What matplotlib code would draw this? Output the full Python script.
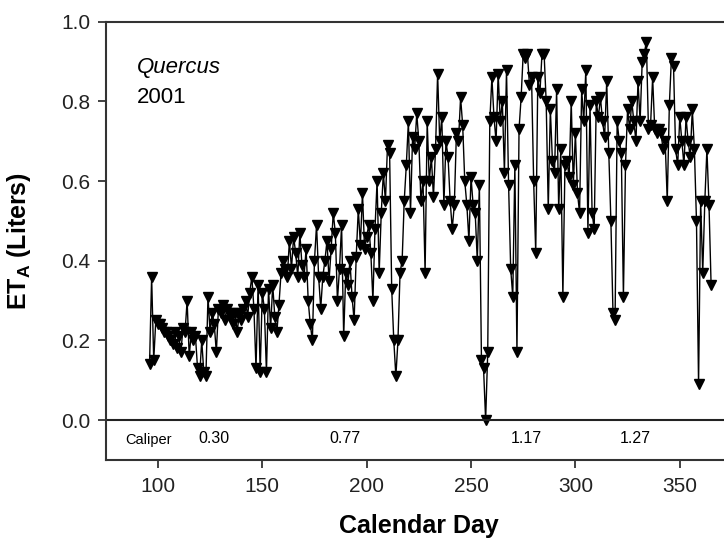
import matplotlib
matplotlib.use('Agg')
import matplotlib.pyplot as plt

plt.rcParams['font.family'] = ['Liberation Sans', 'DejaVu Sans']
plt.rcParams['mathtext.fontset'] = 'custom'
plt.rcParams['mathtext.rm'] = 'Liberation Sans'
plt.rcParams['mathtext.bf'] = 'Liberation Sans:bold'

# Data: daily ET_A (Liters), Quercus 2001
first_day = 96
eta = [
    # 96-105
    0.14, 0.36, 0.15, 0.25, 0.24, 0.24, 0.23, 0.22, 0.22, 0.21,
    # 106-115
    0.20, 0.19, 0.22, 0.18, 0.21, 0.17, 0.23, 0.22, 0.30, 0.16,
    # 116-125
    0.22, 0.20, 0.21, 0.13, 0.11, 0.20, 0.12, 0.11, 0.31, 0.22,
    # 126-135
    0.27, 0.24, 0.17, 0.28, 0.27, 0.29, 0.25, 0.28, 0.27, 0.26,
    # 136-145
    0.24, 0.27, 0.22, 0.27, 0.25, 0.28, 0.30, 0.26, 0.32, 0.36,
    # 146-155
    0.28, 0.13, 0.34, 0.12, 0.32, 0.28, 0.12, 0.33, 0.23, 0.34,
    # 156-165
    0.26, 0.22, 0.29, 0.37, 0.40, 0.38, 0.36, 0.45, 0.38, 0.46,
    # 166-175
    0.42, 0.36, 0.47, 0.39, 0.36, 0.43, 0.30, 0.24, 0.20, 0.40,
    # 176-185
    0.49, 0.36, 0.28, 0.36, 0.40, 0.45, 0.35, 0.43, 0.52, 0.47,
    # 186-195
    0.30, 0.38, 0.49, 0.21, 0.37, 0.34, 0.40, 0.31, 0.25, 0.41,
    # 196-205
    0.53, 0.44, 0.57, 0.43, 0.46, 0.49, 0.42, 0.30, 0.48, 0.60,
    # 206-215
    0.37, 0.52, 0.62, 0.55, 0.69, 0.67, 0.33, 0.20, 0.11, 0.20,
    # 216-225
    0.37, 0.40, 0.55, 0.64, 0.75, 0.52, 0.71, 0.68, 0.77, 0.70,
    # 226-235
    0.55, 0.60, 0.37, 0.75, 0.60, 0.66, 0.56, 0.68, 0.87, 0.70,
    # 236-245
    0.76, 0.54, 0.70, 0.66, 0.55, 0.48, 0.54, 0.72, 0.70, 0.81,
    # 246-255
    0.74, 0.60, 0.54, 0.45, 0.61, 0.54, 0.52, 0.40, 0.59, 0.15,
    # 256-265
    0.13, 0.00, 0.17, 0.75, 0.86, 0.76, 0.70, 0.87, 0.75, 0.80,
    # 266-275
    0.62, 0.88, 0.59, 0.38, 0.31, 0.64, 0.17, 0.73, 0.81, 0.92,
    # 276-285
    0.91, 0.92, 0.84, 0.86, 0.60, 0.42, 0.86, 0.82, 0.92, 0.92,
    # 286-295
    0.80, 0.53, 0.78, 0.65, 0.62, 0.83, 0.53, 0.68, 0.31, 0.64,
    # 296-305
    0.65, 0.61, 0.80, 0.59, 0.72, 0.57, 0.52, 0.83, 0.75, 0.88,
    # 306-315
    0.47, 0.79, 0.52, 0.48, 0.80, 0.76, 0.81, 0.75, 0.71, 0.85,
    # 316-325
    0.67, 0.50, 0.27, 0.25, 0.75, 0.70, 0.67, 0.31, 0.64, 0.78,
    # 326-335
    0.73, 0.80, 0.75, 0.70, 0.85, 0.75, 0.90, 0.92, 0.95, 0.73,
    # 336-345
    0.74, 0.86, 0.73, 0.72, 0.73, 0.72, 0.68, 0.70, 0.55, 0.79,
    # 346-355
    0.91, 0.89, 0.68, 0.64, 0.76, 0.70, 0.64, 0.76, 0.70, 0.66,
    # 356-365
    0.78, 0.68, 0.50, 0.09, 0.55, 0.37, 0.55, 0.68, 0.54, 0.34,
]
days = list(range(first_day, first_day + len(eta)))

caliper_days = [127, 189.5, 276.5, 328.5]
caliper_labels = ['0.30', '0.77', '1.17', '1.27']

fig = plt.figure(figsize=(7.24, 5.43), dpi=100)
ax = fig.add_axes([0.146, 0.153, 0.865, 0.807])

ax.plot(days, eta, color='black', linewidth=1.0, marker='v',
        markersize=7.5, markerfacecolor='black', markeredgecolor='black')
ax.axhline(0.0, color='#222222', linewidth=1.5)

ax.text(84.5, -0.05, 'Caliper', fontsize=10.5, ha='left', va='center')
for d, lab in zip(caliper_days, caliper_labels):
    ax.text(d, -0.045, lab, fontsize=11.5, ha='center', va='center')

ax.text(90, 0.885, 'Quercus', fontsize=16, style='italic', va='center')
ax.text(90, 0.81, '2001', fontsize=16, va='center')

ax.set_xlim(75, 375)
ax.set_ylim(-0.1, 1.0)
ax.set_xticks([100, 150, 200, 250, 300, 350])
ax.set_yticks([0.0, 0.2, 0.4, 0.6, 0.8, 1.0])
ax.set_yticklabels(['0.0', '0.2', '0.4', '0.6', '0.8', '1.0'])
ax.tick_params(axis='both', labelsize=15, length=6, width=1.2,
               direction='out', colors='#222222')
ax.tick_params(axis='y', pad=5)
ax.tick_params(axis='x', pad=6)

for side in ['left', 'bottom', 'top', 'right']:
    ax.spines[side].set_linewidth(1.5)
    ax.spines[side].set_color('#333333')

ax.set_xlabel('Calendar Day', fontsize=18, fontweight='bold', labelpad=13)
ax.set_ylabel(r'ET$_{\mathbf{A}}$ (Liters)', fontsize=18, fontweight='bold', labelpad=20)

fig.savefig('out.png', dpi=100)
